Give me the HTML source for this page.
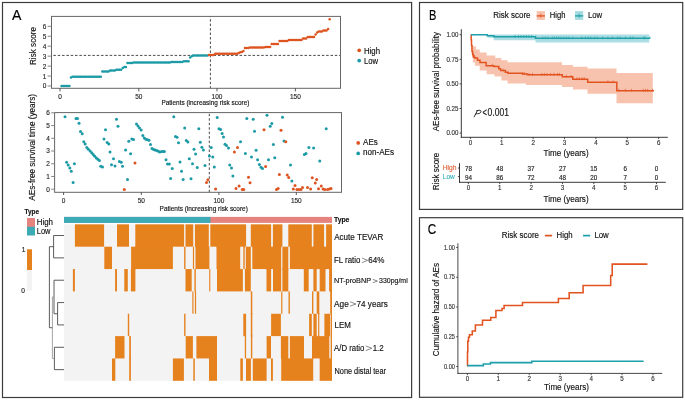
<!DOCTYPE html>
<html><head><meta charset="utf-8"><title>Figure</title>
<style>
html,body{margin:0;padding:0;background:#fff;overflow:hidden;}
svg{display:block;will-change:transform;font-family:"Liberation Sans", sans-serif;}
text{stroke-width:0.15px;}
</style></head><body>
<svg width="685" height="400" viewBox="0 0 685 400">
<rect x="0" y="0" width="685" height="400" fill="#fff"/>
<rect x="2.5" y="2.5" width="409.1" height="395" fill="none" stroke="#3c3c3c" stroke-width="1.2" />
<rect x="419.5" y="2.5" width="263.2" height="206.9" fill="none" stroke="#3c3c3c" stroke-width="1.2" />
<rect x="419.5" y="217.7" width="263.2" height="179.6" fill="none" stroke="#3c3c3c" stroke-width="1.2" />
<text x="12.05" y="19.7" font-size="14.0" fill="#000" stroke="#000" textLength="9.41" lengthAdjust="spacingAndGlyphs" >A</text>
<text x="428.90" y="19.7" font-size="14.0" fill="#000" stroke="#000" textLength="7.37" lengthAdjust="spacingAndGlyphs" >B</text>
<text x="427.80" y="234.45" font-size="14.0" fill="#000" stroke="#000" textLength="8.48" lengthAdjust="spacingAndGlyphs" >C</text>
<line x1="51.5" y1="55.4" x2="340.5" y2="55.4" stroke="#4a4a4a" stroke-width="1.0" stroke-dasharray="2.5,1.83" stroke-dashoffset="2.44"/>
<line x1="210.4" y1="16.4" x2="210.4" y2="88.3" stroke="#4a4a4a" stroke-width="1.0" stroke-dasharray="2.5,1.97" stroke-dashoffset="1.72"/>
<circle cx="61.57" cy="85.90" r="1.25" fill="#1c9aa6"/><circle cx="63.14" cy="85.90" r="1.25" fill="#1c9aa6"/><circle cx="64.70" cy="85.90" r="1.25" fill="#1c9aa6"/><circle cx="66.27" cy="85.90" r="1.25" fill="#1c9aa6"/><circle cx="67.84" cy="85.90" r="1.25" fill="#1c9aa6"/><circle cx="69.41" cy="85.90" r="1.25" fill="#1c9aa6"/><circle cx="70.98" cy="77.50" r="1.25" fill="#1c9aa6"/><circle cx="72.54" cy="76.75" r="1.25" fill="#1c9aa6"/><circle cx="74.11" cy="76.75" r="1.25" fill="#1c9aa6"/><circle cx="75.68" cy="76.75" r="1.25" fill="#1c9aa6"/><circle cx="77.25" cy="76.75" r="1.25" fill="#1c9aa6"/><circle cx="78.82" cy="76.75" r="1.25" fill="#1c9aa6"/><circle cx="80.38" cy="76.75" r="1.25" fill="#1c9aa6"/><circle cx="81.95" cy="76.75" r="1.25" fill="#1c9aa6"/><circle cx="83.52" cy="76.75" r="1.25" fill="#1c9aa6"/><circle cx="85.09" cy="76.75" r="1.25" fill="#1c9aa6"/><circle cx="86.66" cy="76.75" r="1.25" fill="#1c9aa6"/><circle cx="88.22" cy="76.75" r="1.25" fill="#1c9aa6"/><circle cx="89.79" cy="76.75" r="1.25" fill="#1c9aa6"/><circle cx="91.36" cy="76.75" r="1.25" fill="#1c9aa6"/><circle cx="92.93" cy="76.75" r="1.25" fill="#1c9aa6"/><circle cx="94.50" cy="76.75" r="1.25" fill="#1c9aa6"/><circle cx="96.06" cy="76.75" r="1.25" fill="#1c9aa6"/><circle cx="97.63" cy="76.75" r="1.25" fill="#1c9aa6"/><circle cx="99.20" cy="76.75" r="1.25" fill="#1c9aa6"/><circle cx="100.77" cy="76.75" r="1.25" fill="#1c9aa6"/><circle cx="102.34" cy="71.50" r="1.25" fill="#1c9aa6"/><circle cx="103.90" cy="71.50" r="1.25" fill="#1c9aa6"/><circle cx="105.47" cy="71.50" r="1.25" fill="#1c9aa6"/><circle cx="107.04" cy="71.50" r="1.25" fill="#1c9aa6"/><circle cx="108.61" cy="71.50" r="1.25" fill="#1c9aa6"/><circle cx="110.18" cy="70.60" r="1.25" fill="#1c9aa6"/><circle cx="111.74" cy="70.60" r="1.25" fill="#1c9aa6"/><circle cx="113.31" cy="70.60" r="1.25" fill="#1c9aa6"/><circle cx="114.88" cy="70.60" r="1.25" fill="#1c9aa6"/><circle cx="116.45" cy="69.75" r="1.25" fill="#1c9aa6"/><circle cx="118.02" cy="69.75" r="1.25" fill="#1c9aa6"/><circle cx="119.58" cy="69.75" r="1.25" fill="#1c9aa6"/><circle cx="121.15" cy="69.75" r="1.25" fill="#1c9aa6"/><circle cx="122.72" cy="68.10" r="1.25" fill="#1c9aa6"/><circle cx="124.29" cy="66.90" r="1.25" fill="#1c9aa6"/><circle cx="125.86" cy="66.90" r="1.25" fill="#1c9aa6"/><circle cx="127.42" cy="63.00" r="1.25" fill="#1c9aa6"/><circle cx="128.99" cy="63.00" r="1.25" fill="#1c9aa6"/><circle cx="130.56" cy="63.00" r="1.25" fill="#1c9aa6"/><circle cx="132.13" cy="63.00" r="1.25" fill="#1c9aa6"/><circle cx="133.70" cy="62.50" r="1.25" fill="#1c9aa6"/><circle cx="135.26" cy="62.50" r="1.25" fill="#1c9aa6"/><circle cx="136.83" cy="62.50" r="1.25" fill="#1c9aa6"/><circle cx="138.40" cy="62.50" r="1.25" fill="#1c9aa6"/><circle cx="139.97" cy="62.50" r="1.25" fill="#1c9aa6"/><circle cx="141.54" cy="62.50" r="1.25" fill="#1c9aa6"/><circle cx="143.10" cy="62.50" r="1.25" fill="#1c9aa6"/><circle cx="144.67" cy="62.50" r="1.25" fill="#1c9aa6"/><circle cx="146.24" cy="62.50" r="1.25" fill="#1c9aa6"/><circle cx="147.81" cy="62.50" r="1.25" fill="#1c9aa6"/><circle cx="149.38" cy="62.50" r="1.25" fill="#1c9aa6"/><circle cx="150.94" cy="62.50" r="1.25" fill="#1c9aa6"/><circle cx="152.51" cy="62.50" r="1.25" fill="#1c9aa6"/><circle cx="154.08" cy="62.50" r="1.25" fill="#1c9aa6"/><circle cx="155.65" cy="62.50" r="1.25" fill="#1c9aa6"/><circle cx="157.22" cy="62.50" r="1.25" fill="#1c9aa6"/><circle cx="158.78" cy="62.50" r="1.25" fill="#1c9aa6"/><circle cx="160.35" cy="62.50" r="1.25" fill="#1c9aa6"/><circle cx="161.92" cy="62.50" r="1.25" fill="#1c9aa6"/><circle cx="163.49" cy="62.50" r="1.25" fill="#1c9aa6"/><circle cx="165.06" cy="62.50" r="1.25" fill="#1c9aa6"/><circle cx="166.62" cy="62.50" r="1.25" fill="#1c9aa6"/><circle cx="168.19" cy="62.50" r="1.25" fill="#1c9aa6"/><circle cx="169.76" cy="62.50" r="1.25" fill="#1c9aa6"/><circle cx="171.33" cy="61.90" r="1.25" fill="#1c9aa6"/><circle cx="172.90" cy="61.90" r="1.25" fill="#1c9aa6"/><circle cx="174.46" cy="61.90" r="1.25" fill="#1c9aa6"/><circle cx="176.03" cy="61.90" r="1.25" fill="#1c9aa6"/><circle cx="177.60" cy="61.90" r="1.25" fill="#1c9aa6"/><circle cx="179.17" cy="61.90" r="1.25" fill="#1c9aa6"/><circle cx="180.74" cy="61.90" r="1.25" fill="#1c9aa6"/><circle cx="182.30" cy="61.90" r="1.25" fill="#1c9aa6"/><circle cx="183.87" cy="61.25" r="1.25" fill="#1c9aa6"/><circle cx="185.44" cy="61.25" r="1.25" fill="#1c9aa6"/><circle cx="187.01" cy="61.25" r="1.25" fill="#1c9aa6"/><circle cx="188.58" cy="61.25" r="1.25" fill="#1c9aa6"/><circle cx="190.14" cy="57.50" r="1.25" fill="#1c9aa6"/><circle cx="191.71" cy="56.30" r="1.25" fill="#1c9aa6"/><circle cx="193.28" cy="55.60" r="1.25" fill="#1c9aa6"/><circle cx="194.85" cy="55.60" r="1.25" fill="#1c9aa6"/><circle cx="196.42" cy="55.60" r="1.25" fill="#1c9aa6"/><circle cx="197.98" cy="55.60" r="1.25" fill="#1c9aa6"/><circle cx="199.55" cy="55.60" r="1.25" fill="#1c9aa6"/><circle cx="201.12" cy="55.60" r="1.25" fill="#1c9aa6"/><circle cx="202.69" cy="55.60" r="1.25" fill="#1c9aa6"/><circle cx="204.26" cy="55.60" r="1.25" fill="#1c9aa6"/><circle cx="205.82" cy="55.60" r="1.25" fill="#1c9aa6"/><circle cx="207.39" cy="55.60" r="1.25" fill="#1c9aa6"/><circle cx="208.96" cy="55.00" r="1.25" fill="#dd5420"/><circle cx="210.53" cy="55.00" r="1.25" fill="#dd5420"/><circle cx="212.10" cy="55.00" r="1.25" fill="#dd5420"/><circle cx="213.66" cy="55.00" r="1.25" fill="#dd5420"/><circle cx="215.23" cy="53.75" r="1.25" fill="#dd5420"/><circle cx="216.80" cy="53.75" r="1.25" fill="#dd5420"/><circle cx="218.37" cy="53.75" r="1.25" fill="#dd5420"/><circle cx="219.94" cy="53.75" r="1.25" fill="#dd5420"/><circle cx="221.50" cy="53.75" r="1.25" fill="#dd5420"/><circle cx="223.07" cy="53.75" r="1.25" fill="#dd5420"/><circle cx="224.64" cy="53.75" r="1.25" fill="#dd5420"/><circle cx="226.21" cy="53.75" r="1.25" fill="#dd5420"/><circle cx="227.78" cy="53.75" r="1.25" fill="#dd5420"/><circle cx="229.34" cy="53.75" r="1.25" fill="#dd5420"/><circle cx="230.91" cy="53.75" r="1.25" fill="#dd5420"/><circle cx="232.48" cy="53.75" r="1.25" fill="#dd5420"/><circle cx="234.05" cy="53.75" r="1.25" fill="#dd5420"/><circle cx="235.62" cy="53.75" r="1.25" fill="#dd5420"/><circle cx="237.18" cy="53.75" r="1.25" fill="#dd5420"/><circle cx="238.75" cy="52.90" r="1.25" fill="#dd5420"/><circle cx="240.32" cy="52.30" r="1.25" fill="#dd5420"/><circle cx="241.89" cy="51.90" r="1.25" fill="#dd5420"/><circle cx="243.46" cy="51.00" r="1.25" fill="#dd5420"/><circle cx="245.02" cy="47.90" r="1.25" fill="#dd5420"/><circle cx="246.59" cy="47.90" r="1.25" fill="#dd5420"/><circle cx="248.16" cy="47.90" r="1.25" fill="#dd5420"/><circle cx="249.73" cy="47.50" r="1.25" fill="#dd5420"/><circle cx="251.30" cy="47.50" r="1.25" fill="#dd5420"/><circle cx="252.86" cy="47.50" r="1.25" fill="#dd5420"/><circle cx="254.43" cy="47.50" r="1.25" fill="#dd5420"/><circle cx="256.00" cy="47.50" r="1.25" fill="#dd5420"/><circle cx="257.57" cy="47.50" r="1.25" fill="#dd5420"/><circle cx="259.14" cy="47.50" r="1.25" fill="#dd5420"/><circle cx="260.70" cy="47.50" r="1.25" fill="#dd5420"/><circle cx="262.27" cy="47.50" r="1.25" fill="#dd5420"/><circle cx="263.84" cy="47.50" r="1.25" fill="#dd5420"/><circle cx="265.41" cy="46.90" r="1.25" fill="#dd5420"/><circle cx="266.98" cy="46.90" r="1.25" fill="#dd5420"/><circle cx="268.54" cy="46.90" r="1.25" fill="#dd5420"/><circle cx="270.11" cy="46.90" r="1.25" fill="#dd5420"/><circle cx="271.68" cy="43.90" r="1.25" fill="#dd5420"/><circle cx="273.25" cy="43.90" r="1.25" fill="#dd5420"/><circle cx="274.82" cy="43.90" r="1.25" fill="#dd5420"/><circle cx="276.38" cy="43.90" r="1.25" fill="#dd5420"/><circle cx="277.95" cy="43.90" r="1.25" fill="#dd5420"/><circle cx="279.52" cy="41.00" r="1.25" fill="#dd5420"/><circle cx="281.09" cy="41.00" r="1.25" fill="#dd5420"/><circle cx="282.66" cy="41.00" r="1.25" fill="#dd5420"/><circle cx="284.22" cy="41.00" r="1.25" fill="#dd5420"/><circle cx="285.79" cy="41.00" r="1.25" fill="#dd5420"/><circle cx="287.36" cy="41.00" r="1.25" fill="#dd5420"/><circle cx="288.93" cy="40.10" r="1.25" fill="#dd5420"/><circle cx="290.50" cy="40.10" r="1.25" fill="#dd5420"/><circle cx="292.06" cy="40.10" r="1.25" fill="#dd5420"/><circle cx="293.63" cy="40.10" r="1.25" fill="#dd5420"/><circle cx="295.20" cy="40.10" r="1.25" fill="#dd5420"/><circle cx="296.77" cy="40.10" r="1.25" fill="#dd5420"/><circle cx="298.34" cy="40.10" r="1.25" fill="#dd5420"/><circle cx="299.90" cy="40.10" r="1.25" fill="#dd5420"/><circle cx="301.47" cy="40.10" r="1.25" fill="#dd5420"/><circle cx="303.04" cy="38.60" r="1.25" fill="#dd5420"/><circle cx="304.61" cy="38.60" r="1.25" fill="#dd5420"/><circle cx="306.18" cy="38.60" r="1.25" fill="#dd5420"/><circle cx="307.74" cy="37.00" r="1.25" fill="#dd5420"/><circle cx="309.31" cy="37.00" r="1.25" fill="#dd5420"/><circle cx="310.88" cy="37.00" r="1.25" fill="#dd5420"/><circle cx="312.45" cy="37.00" r="1.25" fill="#dd5420"/><circle cx="314.02" cy="37.00" r="1.25" fill="#dd5420"/><circle cx="315.58" cy="34.50" r="1.25" fill="#dd5420"/><circle cx="317.15" cy="32.60" r="1.25" fill="#dd5420"/><circle cx="318.72" cy="31.60" r="1.25" fill="#dd5420"/><circle cx="320.29" cy="31.60" r="1.25" fill="#dd5420"/><circle cx="321.86" cy="31.60" r="1.25" fill="#dd5420"/><circle cx="323.42" cy="30.50" r="1.25" fill="#dd5420"/><circle cx="324.99" cy="30.50" r="1.25" fill="#dd5420"/><circle cx="326.56" cy="30.50" r="1.25" fill="#dd5420"/><circle cx="328.13" cy="28.90" r="1.25" fill="#dd5420"/><circle cx="329.70" cy="19.25" r="1.25" fill="#dd5420"/>
<rect x="51.5" y="16.4" width="289.0" height="71.9" fill="none" stroke="#666" stroke-width="1.0" />
<line x1="47.6" y1="86.0" x2="51.5" y2="86.0" stroke="#777" stroke-width="0.9" />
<text x="46.3" y="88.45" font-size="6.9" text-anchor="end" fill="#2a2a2a" stroke="#2a2a2a" textLength="3.61" lengthAdjust="spacingAndGlyphs" >0</text>
<line x1="47.6" y1="76.05" x2="51.5" y2="76.05" stroke="#777" stroke-width="0.9" />
<text x="46.3" y="78.50" font-size="6.9" text-anchor="end" fill="#2a2a2a" stroke="#2a2a2a" textLength="3.61" lengthAdjust="spacingAndGlyphs" >1</text>
<line x1="47.6" y1="66.1" x2="51.5" y2="66.1" stroke="#777" stroke-width="0.9" />
<text x="46.3" y="68.55" font-size="6.9" text-anchor="end" fill="#2a2a2a" stroke="#2a2a2a" textLength="3.61" lengthAdjust="spacingAndGlyphs" >2</text>
<line x1="47.6" y1="56.150000000000006" x2="51.5" y2="56.150000000000006" stroke="#777" stroke-width="0.9" />
<text x="46.3" y="58.60" font-size="6.9" text-anchor="end" fill="#2a2a2a" stroke="#2a2a2a" textLength="3.61" lengthAdjust="spacingAndGlyphs" >3</text>
<line x1="47.6" y1="46.2" x2="51.5" y2="46.2" stroke="#777" stroke-width="0.9" />
<text x="46.3" y="48.65" font-size="6.9" text-anchor="end" fill="#2a2a2a" stroke="#2a2a2a" textLength="3.61" lengthAdjust="spacingAndGlyphs" >4</text>
<line x1="47.6" y1="36.25" x2="51.5" y2="36.25" stroke="#777" stroke-width="0.9" />
<text x="46.3" y="38.70" font-size="6.9" text-anchor="end" fill="#2a2a2a" stroke="#2a2a2a" textLength="3.61" lengthAdjust="spacingAndGlyphs" >5</text>
<line x1="47.6" y1="26.300000000000004" x2="51.5" y2="26.300000000000004" stroke="#777" stroke-width="0.9" />
<text x="46.3" y="28.75" font-size="6.9" text-anchor="end" fill="#2a2a2a" stroke="#2a2a2a" textLength="3.61" lengthAdjust="spacingAndGlyphs" >6</text>
<line x1="60.0" y1="88.3" x2="60.0" y2="91.4" stroke="#444" stroke-width="0.9" />
<text x="60.0" y="98.8" font-size="6.9" text-anchor="middle" fill="#2a2a2a" stroke="#2a2a2a" textLength="3.61" lengthAdjust="spacingAndGlyphs" >0</text>
<line x1="138.8" y1="88.3" x2="138.8" y2="91.4" stroke="#444" stroke-width="0.9" />
<text x="138.8" y="98.8" font-size="6.9" text-anchor="middle" fill="#2a2a2a" stroke="#2a2a2a" textLength="7.21" lengthAdjust="spacingAndGlyphs" >50</text>
<line x1="217.0" y1="88.3" x2="217.0" y2="91.4" stroke="#444" stroke-width="0.9" />
<text x="217.0" y="98.8" font-size="6.9" text-anchor="middle" fill="#2a2a2a" stroke="#2a2a2a" textLength="10.82" lengthAdjust="spacingAndGlyphs" >100</text>
<line x1="295.4" y1="88.3" x2="295.4" y2="91.4" stroke="#444" stroke-width="0.9" />
<text x="295.4" y="98.8" font-size="6.9" text-anchor="middle" fill="#2a2a2a" stroke="#2a2a2a" textLength="10.82" lengthAdjust="spacingAndGlyphs" >150</text>
<text x="161.40" y="105.0" font-size="7.0" fill="#111" stroke="#111" textLength="88.01" lengthAdjust="spacingAndGlyphs" >Patients (increasing risk score)</text>
<text transform="translate(36.0,65.00) rotate(-90)" x="0" y="0" font-size="8.6" fill="#111" stroke="#111" textLength="37.98" lengthAdjust="spacingAndGlyphs">Risk score</text>
<circle cx="359.2" cy="50.3" r="1.85" fill="#dd5420"/>
<circle cx="359.2" cy="60.6" r="1.85" fill="#1c9aa6"/>
<text x="363.90" y="54.0" font-size="8.4" fill="#111" stroke="#111" textLength="16.11" lengthAdjust="spacingAndGlyphs" >High</text>
<text x="363.90" y="63.7" font-size="8.4" fill="#111" stroke="#111" textLength="14.10" lengthAdjust="spacingAndGlyphs" >Low</text>
<line x1="209.3" y1="112.6" x2="209.3" y2="192.3" stroke="#4a4a4a" stroke-width="1.0" stroke-dasharray="2.5,1.97" stroke-dashoffset="3.32"/>
<circle cx="65" cy="116.8" r="1.5" fill="#1c9aa6"/><circle cx="76" cy="118.5" r="1.5" fill="#1c9aa6"/><circle cx="77.5" cy="118.5" r="1.5" fill="#1c9aa6"/><circle cx="79" cy="123.2" r="1.5" fill="#1c9aa6"/><circle cx="80.5" cy="131.5" r="1.5" fill="#1c9aa6"/><circle cx="82.2" cy="133.7" r="1.5" fill="#1c9aa6"/><circle cx="83.8" cy="141.8" r="1.5" fill="#1c9aa6"/><circle cx="85.2" cy="144" r="1.5" fill="#1c9aa6"/><circle cx="86.8" cy="147.5" r="1.5" fill="#1c9aa6"/><circle cx="88.4" cy="149.2" r="1.5" fill="#1c9aa6"/><circle cx="66.6" cy="162.3" r="1.5" fill="#1c9aa6"/><circle cx="68.2" cy="165" r="1.5" fill="#1c9aa6"/><circle cx="69.8" cy="168" r="1.5" fill="#1c9aa6"/><circle cx="71.25" cy="171.25" r="1.5" fill="#1c9aa6"/><circle cx="73.1" cy="182.5" r="1.5" fill="#1c9aa6"/><circle cx="74.4" cy="163.75" r="1.5" fill="#1c9aa6"/><circle cx="90.1" cy="151" r="1.5" fill="#1c9aa6"/><circle cx="91.7" cy="152.8" r="1.5" fill="#1c9aa6"/><circle cx="93.2" cy="154.4" r="1.5" fill="#1c9aa6"/><circle cx="94.8" cy="156.2" r="1.5" fill="#1c9aa6"/><circle cx="96.3" cy="157.9" r="1.5" fill="#1c9aa6"/><circle cx="97.9" cy="159.3" r="1.5" fill="#1c9aa6"/><circle cx="99.4" cy="160.6" r="1.5" fill="#1c9aa6"/><circle cx="100.8" cy="166.25" r="1.5" fill="#1c9aa6"/><circle cx="102.5" cy="166.9" r="1.5" fill="#1c9aa6"/><circle cx="104" cy="139" r="1.5" fill="#1c9aa6"/><circle cx="105.5" cy="129.7" r="1.5" fill="#1c9aa6"/><circle cx="107.2" cy="142.5" r="1.5" fill="#1c9aa6"/><circle cx="108.8" cy="144" r="1.5" fill="#1c9aa6"/><circle cx="110" cy="152.1" r="1.5" fill="#1c9aa6"/><circle cx="111.5" cy="164.75" r="1.5" fill="#1c9aa6"/><circle cx="113.5" cy="158.75" r="1.5" fill="#1c9aa6"/><circle cx="115" cy="166" r="1.5" fill="#1c9aa6"/><circle cx="116.5" cy="119.2" r="1.5" fill="#1c9aa6"/><circle cx="118" cy="126.3" r="1.5" fill="#1c9aa6"/><circle cx="119.4" cy="161.5" r="1.5" fill="#1c9aa6"/><circle cx="121.2" cy="162.2" r="1.5" fill="#1c9aa6"/><circle cx="122.5" cy="166.25" r="1.5" fill="#1c9aa6"/><circle cx="124.3" cy="189.4" r="1.5" fill="#dd5420"/><circle cx="125.6" cy="150" r="1.5" fill="#1c9aa6"/><circle cx="127.5" cy="179.6" r="1.5" fill="#1c9aa6"/><circle cx="128.8" cy="141.2" r="1.5" fill="#1c9aa6"/><circle cx="130.6" cy="153.75" r="1.5" fill="#1c9aa6"/><circle cx="131.8" cy="139" r="1.5" fill="#1c9aa6"/><circle cx="133.5" cy="139.5" r="1.5" fill="#1c9aa6"/><circle cx="135" cy="162.9" r="1.5" fill="#dd5420"/><circle cx="136.5" cy="124" r="1.5" fill="#1c9aa6"/><circle cx="138" cy="126" r="1.5" fill="#1c9aa6"/><circle cx="139.5" cy="128" r="1.5" fill="#1c9aa6"/><circle cx="141.2" cy="130" r="1.5" fill="#1c9aa6"/><circle cx="142.8" cy="135.5" r="1.5" fill="#1c9aa6"/><circle cx="144.3" cy="138" r="1.5" fill="#1c9aa6"/><circle cx="145.9" cy="139.3" r="1.5" fill="#1c9aa6"/><circle cx="147.5" cy="139.7" r="1.5" fill="#1c9aa6"/><circle cx="149" cy="140.3" r="1.5" fill="#1c9aa6"/><circle cx="150.5" cy="144.5" r="1.5" fill="#1c9aa6"/><circle cx="152" cy="148.5" r="1.5" fill="#1c9aa6"/><circle cx="153.6" cy="149.5" r="1.5" fill="#1c9aa6"/><circle cx="155.1" cy="150" r="1.5" fill="#1c9aa6"/><circle cx="156.8" cy="150.6" r="1.5" fill="#1c9aa6"/><circle cx="158.3" cy="151.3" r="1.5" fill="#1c9aa6"/><circle cx="159.8" cy="151.9" r="1.5" fill="#1c9aa6"/><circle cx="161.6" cy="151.4" r="1.5" fill="#1c9aa6"/><circle cx="163" cy="151.5" r="1.5" fill="#1c9aa6"/><circle cx="164.4" cy="151.5" r="1.5" fill="#1c9aa6"/><circle cx="166" cy="159.75" r="1.5" fill="#1c9aa6"/><circle cx="167.5" cy="164.1" r="1.5" fill="#1c9aa6"/><circle cx="169.3" cy="164.1" r="1.5" fill="#1c9aa6"/><circle cx="170.6" cy="178.5" r="1.5" fill="#1c9aa6"/><circle cx="172.25" cy="168.5" r="1.5" fill="#1c9aa6"/><circle cx="173.8" cy="116.8" r="1.5" fill="#1c9aa6"/><circle cx="175.5" cy="136.5" r="1.5" fill="#1c9aa6"/><circle cx="177" cy="137.2" r="1.5" fill="#1c9aa6"/><circle cx="178.5" cy="142.8" r="1.5" fill="#1c9aa6"/><circle cx="180" cy="161.9" r="1.5" fill="#1c9aa6"/><circle cx="181.5" cy="171.25" r="1.5" fill="#1c9aa6"/><circle cx="183.1" cy="179.4" r="1.5" fill="#1c9aa6"/><circle cx="184.7" cy="128" r="1.5" fill="#1c9aa6"/><circle cx="186.3" cy="140.5" r="1.5" fill="#1c9aa6"/><circle cx="187.9" cy="142.1" r="1.5" fill="#1c9aa6"/><circle cx="189.3" cy="158.75" r="1.5" fill="#1c9aa6"/><circle cx="191" cy="178.75" r="1.5" fill="#1c9aa6"/><circle cx="192.5" cy="163.75" r="1.5" fill="#1c9aa6"/><circle cx="194" cy="149.3" r="1.5" fill="#1c9aa6"/><circle cx="195.6" cy="154" r="1.5" fill="#1c9aa6"/><circle cx="197.25" cy="167.5" r="1.5" fill="#1c9aa6"/><circle cx="198.8" cy="128.7" r="1.5" fill="#1c9aa6"/><circle cx="200.3" cy="142.3" r="1.5" fill="#1c9aa6"/><circle cx="201.9" cy="147.3" r="1.5" fill="#1c9aa6"/><circle cx="203.4" cy="150" r="1.5" fill="#1c9aa6"/><circle cx="205" cy="165.4" r="1.5" fill="#1c9aa6"/><circle cx="206.5" cy="182.5" r="1.5" fill="#dd5420"/><circle cx="207.9" cy="179.75" r="1.5" fill="#dd5420"/><circle cx="209.4" cy="156" r="1.5" fill="#1c9aa6"/><circle cx="211.2" cy="147.4" r="1.5" fill="#1c9aa6"/><circle cx="212.75" cy="156.9" r="1.5" fill="#1c9aa6"/><circle cx="214.3" cy="166.9" r="1.5" fill="#1c9aa6"/><circle cx="215.6" cy="189" r="1.5" fill="#dd5420"/><circle cx="217.2" cy="117.5" r="1.5" fill="#1c9aa6"/><circle cx="219" cy="128.7" r="1.5" fill="#1c9aa6"/><circle cx="220.6" cy="129.5" r="1.5" fill="#1c9aa6"/><circle cx="222.1" cy="133.5" r="1.5" fill="#1c9aa6"/><circle cx="223.5" cy="137" r="1.5" fill="#1c9aa6"/><circle cx="225" cy="144.2" r="1.5" fill="#1c9aa6"/><circle cx="226.5" cy="145.6" r="1.5" fill="#1c9aa6"/><circle cx="228.5" cy="148" r="1.5" fill="#1c9aa6"/><circle cx="229.75" cy="165" r="1.5" fill="#1c9aa6"/><circle cx="231.5" cy="167.9" r="1.5" fill="#1c9aa6"/><circle cx="232.9" cy="176" r="1.5" fill="#1c9aa6"/><circle cx="234.4" cy="152.1" r="1.5" fill="#dd5420"/><circle cx="236" cy="188.5" r="1.5" fill="#dd5420"/><circle cx="237.5" cy="147.5" r="1.5" fill="#dd5420"/><circle cx="239.1" cy="186" r="1.5" fill="#dd5420"/><circle cx="240.5" cy="141.8" r="1.5" fill="#1c9aa6"/><circle cx="242.25" cy="189.4" r="1.5" fill="#dd5420"/><circle cx="243.75" cy="189.4" r="1.5" fill="#dd5420"/><circle cx="245.4" cy="153.5" r="1.5" fill="#1c9aa6"/><circle cx="246.8" cy="118.5" r="1.5" fill="#1c9aa6"/><circle cx="248.5" cy="177.25" r="1.5" fill="#dd5420"/><circle cx="250" cy="182.75" r="1.5" fill="#dd5420"/><circle cx="251.5" cy="156.9" r="1.5" fill="#1c9aa6"/><circle cx="253.2" cy="119.2" r="1.5" fill="#1c9aa6"/><circle cx="254.5" cy="131.3" r="1.5" fill="#1c9aa6"/><circle cx="256.1" cy="150.3" r="1.5" fill="#1c9aa6"/><circle cx="257.6" cy="159.75" r="1.5" fill="#1c9aa6"/><circle cx="259.4" cy="164.4" r="1.5" fill="#1c9aa6"/><circle cx="261" cy="167.25" r="1.5" fill="#1c9aa6"/><circle cx="262.5" cy="168.5" r="1.5" fill="#1c9aa6"/><circle cx="264" cy="129.8" r="1.5" fill="#dd5420"/><circle cx="265.6" cy="166.5" r="1.5" fill="#dd5420"/><circle cx="267" cy="115.2" r="1.5" fill="#1c9aa6"/><circle cx="268.5" cy="159.75" r="1.5" fill="#1c9aa6"/><circle cx="270.2" cy="126.3" r="1.5" fill="#1c9aa6"/><circle cx="271.8" cy="123.5" r="1.5" fill="#1c9aa6"/><circle cx="273.4" cy="144.5" r="1.5" fill="#1c9aa6"/><circle cx="274.75" cy="157.75" r="1.5" fill="#1c9aa6"/><circle cx="276.5" cy="189.4" r="1.5" fill="#dd5420"/><circle cx="278.1" cy="188.5" r="1.5" fill="#dd5420"/><circle cx="279.4" cy="174.4" r="1.5" fill="#dd5420"/><circle cx="281" cy="130.3" r="1.5" fill="#dd5420"/><circle cx="282.5" cy="117.2" r="1.5" fill="#1c9aa6"/><circle cx="284" cy="141" r="1.5" fill="#1c9aa6"/><circle cx="285.8" cy="141.8" r="1.5" fill="#dd5420"/><circle cx="287.25" cy="175" r="1.5" fill="#dd5420"/><circle cx="288.75" cy="177.5" r="1.5" fill="#dd5420"/><circle cx="290.5" cy="165" r="1.5" fill="#1c9aa6"/><circle cx="291.9" cy="180.9" r="1.5" fill="#1c9aa6"/><circle cx="293.3" cy="189" r="1.5" fill="#dd5420"/><circle cx="295" cy="185.6" r="1.5" fill="#dd5420"/><circle cx="296.9" cy="189.4" r="1.5" fill="#dd5420"/><circle cx="299" cy="189.4" r="1.5" fill="#dd5420"/><circle cx="301" cy="189.4" r="1.5" fill="#dd5420"/><circle cx="302.5" cy="187.5" r="1.5" fill="#dd5420"/><circle cx="304.4" cy="154.4" r="1.5" fill="#1c9aa6"/><circle cx="306" cy="153.5" r="1.5" fill="#1c9aa6"/><circle cx="307.5" cy="187.5" r="1.5" fill="#dd5420"/><circle cx="308.9" cy="147.4" r="1.5" fill="#1c9aa6"/><circle cx="310.6" cy="189" r="1.5" fill="#dd5420"/><circle cx="312.25" cy="177.75" r="1.5" fill="#dd5420"/><circle cx="313.6" cy="148" r="1.5" fill="#1c9aa6"/><circle cx="315.25" cy="183.1" r="1.5" fill="#dd5420"/><circle cx="316.6" cy="179.4" r="1.5" fill="#dd5420"/><circle cx="318.5" cy="188.75" r="1.5" fill="#dd5420"/><circle cx="319.75" cy="161" r="1.5" fill="#1c9aa6"/><circle cx="321.25" cy="186" r="1.5" fill="#dd5420"/><circle cx="323.1" cy="189" r="1.5" fill="#dd5420"/><circle cx="324.75" cy="189.4" r="1.5" fill="#dd5420"/><circle cx="326.2" cy="128.7" r="1.5" fill="#1c9aa6"/><circle cx="327.5" cy="189.4" r="1.5" fill="#dd5420"/><circle cx="329.4" cy="189" r="1.5" fill="#dd5420"/><circle cx="331" cy="188.5" r="1.5" fill="#dd5420"/>
<rect x="54.6" y="112.6" width="286.9" height="79.70000000000002" fill="none" stroke="#666" stroke-width="1.0" />
<line x1="51.2" y1="189.2" x2="54.6" y2="189.2" stroke="#777" stroke-width="0.9" />
<text x="49.9" y="191.65" font-size="6.9" text-anchor="end" fill="#2a2a2a" stroke="#2a2a2a" textLength="3.61" lengthAdjust="spacingAndGlyphs" >0</text>
<line x1="51.2" y1="176.47" x2="54.6" y2="176.47" stroke="#777" stroke-width="0.9" />
<text x="49.9" y="178.92" font-size="6.9" text-anchor="end" fill="#2a2a2a" stroke="#2a2a2a" textLength="3.61" lengthAdjust="spacingAndGlyphs" >1</text>
<line x1="51.2" y1="163.73999999999998" x2="54.6" y2="163.73999999999998" stroke="#777" stroke-width="0.9" />
<text x="49.9" y="166.19" font-size="6.9" text-anchor="end" fill="#2a2a2a" stroke="#2a2a2a" textLength="3.61" lengthAdjust="spacingAndGlyphs" >2</text>
<line x1="51.2" y1="151.01" x2="54.6" y2="151.01" stroke="#777" stroke-width="0.9" />
<text x="49.9" y="153.46" font-size="6.9" text-anchor="end" fill="#2a2a2a" stroke="#2a2a2a" textLength="3.61" lengthAdjust="spacingAndGlyphs" >3</text>
<line x1="51.2" y1="138.27999999999997" x2="54.6" y2="138.27999999999997" stroke="#777" stroke-width="0.9" />
<text x="49.9" y="140.73" font-size="6.9" text-anchor="end" fill="#2a2a2a" stroke="#2a2a2a" textLength="3.61" lengthAdjust="spacingAndGlyphs" >4</text>
<line x1="51.2" y1="125.54999999999998" x2="54.6" y2="125.54999999999998" stroke="#777" stroke-width="0.9" />
<text x="49.9" y="128.00" font-size="6.9" text-anchor="end" fill="#2a2a2a" stroke="#2a2a2a" textLength="3.61" lengthAdjust="spacingAndGlyphs" >5</text>
<line x1="51.2" y1="112.82" x2="54.6" y2="112.82" stroke="#777" stroke-width="0.9" />
<text x="49.9" y="115.27" font-size="6.9" text-anchor="end" fill="#2a2a2a" stroke="#2a2a2a" textLength="3.61" lengthAdjust="spacingAndGlyphs" >6</text>
<line x1="63.6" y1="192.3" x2="63.6" y2="195.0" stroke="#444" stroke-width="0.9" />
<text x="63.6" y="203.3" font-size="6.9" text-anchor="middle" fill="#2a2a2a" stroke="#2a2a2a" textLength="3.61" lengthAdjust="spacingAndGlyphs" >0</text>
<line x1="141.3" y1="192.3" x2="141.3" y2="195.0" stroke="#444" stroke-width="0.9" />
<text x="141.3" y="203.3" font-size="6.9" text-anchor="middle" fill="#2a2a2a" stroke="#2a2a2a" textLength="7.21" lengthAdjust="spacingAndGlyphs" >50</text>
<line x1="218.9" y1="192.3" x2="218.9" y2="195.0" stroke="#444" stroke-width="0.9" />
<text x="218.9" y="203.3" font-size="6.9" text-anchor="middle" fill="#2a2a2a" stroke="#2a2a2a" textLength="10.82" lengthAdjust="spacingAndGlyphs" >100</text>
<line x1="296.3" y1="192.3" x2="296.3" y2="195.0" stroke="#444" stroke-width="0.9" />
<text x="296.3" y="203.3" font-size="6.9" text-anchor="middle" fill="#2a2a2a" stroke="#2a2a2a" textLength="10.82" lengthAdjust="spacingAndGlyphs" >150</text>
<text x="159.60" y="211.0" font-size="7.0" fill="#111" stroke="#111" textLength="88.21" lengthAdjust="spacingAndGlyphs" >Patients (increasing risk score)</text>
<text transform="translate(34.5,200.70) rotate(-90)" x="0" y="0" font-size="8.6" fill="#111" stroke="#111" textLength="106.69" lengthAdjust="spacingAndGlyphs">AEs-free survival time (years)</text>
<circle cx="358.2" cy="142.9" r="1.85" fill="#dd5420"/>
<circle cx="358.2" cy="153.4" r="1.85" fill="#1c9aa6"/>
<text x="363.00" y="144.9" font-size="8.5" fill="#111" stroke="#111" textLength="14.79" lengthAdjust="spacingAndGlyphs" >AEs</text>
<text x="363.00" y="154.6" font-size="8.5" fill="#111" stroke="#111" textLength="31.01" lengthAdjust="spacingAndGlyphs" >non-AEs</text>
<rect x="64.0" y="216.9" width="268.0" height="6.0" fill="#e5837e" stroke="none" stroke-width="1" />
<rect x="64.0" y="216.9" width="146.4" height="6.0" fill="#3cabb5" stroke="none" stroke-width="1" />
<rect x="64.0" y="224.35" width="268.0" height="156.45000000000002" fill="#f3f3f3" stroke="none" stroke-width="1" />
<rect x="74.90" y="224.35" width="29.20" height="22.35" fill="#e6821e" stroke="none" stroke-width="1" />
<rect x="117.00" y="224.35" width="12.00" height="22.35" fill="#e6821e" stroke="none" stroke-width="1" />
<rect x="135.30" y="224.35" width="48.80" height="22.35" fill="#e6821e" stroke="none" stroke-width="1" />
<rect x="185.50" y="224.35" width="7.70" height="22.35" fill="#e6821e" stroke="none" stroke-width="1" />
<rect x="194.90" y="224.35" width="13.90" height="22.35" fill="#e6821e" stroke="none" stroke-width="1" />
<rect x="210.30" y="224.35" width="35.80" height="22.35" fill="#e6821e" stroke="none" stroke-width="1" />
<rect x="250.80" y="224.35" width="20.30" height="22.35" fill="#e6821e" stroke="none" stroke-width="1" />
<rect x="272.90" y="224.35" width="9.50" height="22.35" fill="#e6821e" stroke="none" stroke-width="1" />
<rect x="288.30" y="224.35" width="23.50" height="22.35" fill="#e6821e" stroke="none" stroke-width="1" />
<rect x="313.40" y="224.35" width="10.70" height="22.35" fill="#e6821e" stroke="none" stroke-width="1" />
<rect x="326.10" y="224.35" width="5.90" height="22.35" fill="#e6821e" stroke="none" stroke-width="1" />
<rect x="135.30" y="246.00" width="37.60" height="1.4" fill="#e6821e" stroke="none" stroke-width="1" />
<rect x="195.50" y="246.00" width="13.30" height="1.4" fill="#e6821e" stroke="none" stroke-width="1" />
<rect x="216.50" y="246.00" width="23.70" height="1.4" fill="#e6821e" stroke="none" stroke-width="1" />
<rect x="243.30" y="246.00" width="1.40" height="1.4" fill="#e6821e" stroke="none" stroke-width="1" />
<rect x="252.30" y="246.00" width="18.80" height="1.4" fill="#e6821e" stroke="none" stroke-width="1" />
<rect x="272.90" y="246.00" width="8.30" height="1.4" fill="#e6821e" stroke="none" stroke-width="1" />
<rect x="289.90" y="246.00" width="21.90" height="1.4" fill="#e6821e" stroke="none" stroke-width="1" />
<rect x="313.40" y="246.00" width="10.70" height="1.4" fill="#e6821e" stroke="none" stroke-width="1" />
<rect x="326.10" y="246.00" width="5.90" height="1.4" fill="#e6821e" stroke="none" stroke-width="1" />
<rect x="104.30" y="246.70" width="7.70" height="22.35" fill="#e6821e" stroke="none" stroke-width="1" />
<rect x="131.10" y="246.70" width="41.80" height="22.35" fill="#e6821e" stroke="none" stroke-width="1" />
<rect x="184.10" y="246.70" width="1.40" height="22.35" fill="#e6821e" stroke="none" stroke-width="1" />
<rect x="192.90" y="246.70" width="1.20" height="22.35" fill="#e6821e" stroke="none" stroke-width="1" />
<rect x="195.50" y="246.70" width="13.90" height="22.35" fill="#e6821e" stroke="none" stroke-width="1" />
<rect x="216.50" y="246.70" width="23.70" height="22.35" fill="#e6821e" stroke="none" stroke-width="1" />
<rect x="243.30" y="246.70" width="1.40" height="22.35" fill="#e6821e" stroke="none" stroke-width="1" />
<rect x="245.80" y="246.70" width="5.00" height="22.35" fill="#e6821e" stroke="none" stroke-width="1" />
<rect x="252.30" y="246.70" width="28.90" height="22.35" fill="#e6821e" stroke="none" stroke-width="1" />
<rect x="282.40" y="246.70" width="5.90" height="22.35" fill="#e6821e" stroke="none" stroke-width="1" />
<rect x="289.90" y="246.70" width="42.10" height="22.35" fill="#e6821e" stroke="none" stroke-width="1" />
<rect x="131.10" y="268.35" width="4.30" height="1.4" fill="#e6821e" stroke="none" stroke-width="1" />
<rect x="195.50" y="268.35" width="0.30" height="1.4" fill="#e6821e" stroke="none" stroke-width="1" />
<rect x="217.00" y="268.35" width="23.20" height="1.4" fill="#e6821e" stroke="none" stroke-width="1" />
<rect x="245.80" y="268.35" width="5.00" height="1.4" fill="#e6821e" stroke="none" stroke-width="1" />
<rect x="266.50" y="268.35" width="4.60" height="1.4" fill="#e6821e" stroke="none" stroke-width="1" />
<rect x="273.00" y="268.35" width="8.20" height="1.4" fill="#e6821e" stroke="none" stroke-width="1" />
<rect x="282.40" y="268.35" width="5.90" height="1.4" fill="#e6821e" stroke="none" stroke-width="1" />
<rect x="303.80" y="268.35" width="4.90" height="1.4" fill="#e6821e" stroke="none" stroke-width="1" />
<rect x="313.40" y="268.35" width="3.30" height="1.4" fill="#e6821e" stroke="none" stroke-width="1" />
<rect x="319.70" y="268.35" width="5.80" height="1.4" fill="#e6821e" stroke="none" stroke-width="1" />
<rect x="329.10" y="268.35" width="2.90" height="1.4" fill="#e6821e" stroke="none" stroke-width="1" />
<rect x="72.90" y="269.05" width="2.00" height="22.35" fill="#e6821e" stroke="none" stroke-width="1" />
<rect x="115.10" y="269.05" width="1.90" height="22.35" fill="#e6821e" stroke="none" stroke-width="1" />
<rect x="124.30" y="269.05" width="3.50" height="22.35" fill="#e6821e" stroke="none" stroke-width="1" />
<rect x="130.90" y="269.05" width="4.50" height="22.35" fill="#e6821e" stroke="none" stroke-width="1" />
<rect x="185.50" y="269.05" width="6.20" height="22.35" fill="#e6821e" stroke="none" stroke-width="1" />
<rect x="194.40" y="269.05" width="1.40" height="22.35" fill="#e6821e" stroke="none" stroke-width="1" />
<rect x="209.20" y="269.05" width="1.10" height="22.35" fill="#e6821e" stroke="none" stroke-width="1" />
<rect x="217.00" y="269.05" width="25.90" height="22.35" fill="#e6821e" stroke="none" stroke-width="1" />
<rect x="244.90" y="269.05" width="5.90" height="22.35" fill="#e6821e" stroke="none" stroke-width="1" />
<rect x="266.50" y="269.05" width="4.60" height="22.35" fill="#e6821e" stroke="none" stroke-width="1" />
<rect x="273.00" y="269.05" width="8.20" height="22.35" fill="#e6821e" stroke="none" stroke-width="1" />
<rect x="282.40" y="269.05" width="5.90" height="22.35" fill="#e6821e" stroke="none" stroke-width="1" />
<rect x="303.80" y="269.05" width="4.90" height="22.35" fill="#e6821e" stroke="none" stroke-width="1" />
<rect x="313.40" y="269.05" width="3.30" height="22.35" fill="#e6821e" stroke="none" stroke-width="1" />
<rect x="319.70" y="269.05" width="5.80" height="22.35" fill="#e6821e" stroke="none" stroke-width="1" />
<rect x="329.10" y="269.05" width="2.90" height="22.35" fill="#e6821e" stroke="none" stroke-width="1" />
<rect x="194.90" y="290.70" width="0.90" height="1.4" fill="#e6821e" stroke="none" stroke-width="1" />
<rect x="330.20" y="290.70" width="1.80" height="1.4" fill="#e6821e" stroke="none" stroke-width="1" />
<rect x="192.30" y="291.40" width="1.20" height="22.35" fill="#e6821e" stroke="none" stroke-width="1" />
<rect x="194.90" y="291.40" width="1.20" height="22.35" fill="#e6821e" stroke="none" stroke-width="1" />
<rect x="250.80" y="291.40" width="1.50" height="22.35" fill="#e6821e" stroke="none" stroke-width="1" />
<rect x="281.20" y="291.40" width="1.20" height="22.35" fill="#e6821e" stroke="none" stroke-width="1" />
<rect x="288.50" y="291.40" width="1.40" height="22.35" fill="#e6821e" stroke="none" stroke-width="1" />
<rect x="312.00" y="291.40" width="1.40" height="22.35" fill="#e6821e" stroke="none" stroke-width="1" />
<rect x="316.70" y="291.40" width="2.60" height="22.35" fill="#e6821e" stroke="none" stroke-width="1" />
<rect x="330.20" y="291.40" width="1.80" height="22.35" fill="#e6821e" stroke="none" stroke-width="1" />
<rect x="250.80" y="313.05" width="1.50" height="1.4" fill="#e6821e" stroke="none" stroke-width="1" />
<rect x="318.10" y="313.05" width="1.20" height="1.4" fill="#e6821e" stroke="none" stroke-width="1" />
<rect x="330.80" y="313.05" width="1.20" height="1.4" fill="#e6821e" stroke="none" stroke-width="1" />
<rect x="127.80" y="313.75" width="1.40" height="22.35" fill="#e6821e" stroke="none" stroke-width="1" />
<rect x="184.10" y="313.75" width="1.40" height="22.35" fill="#e6821e" stroke="none" stroke-width="1" />
<rect x="243.30" y="313.75" width="2.80" height="22.35" fill="#e6821e" stroke="none" stroke-width="1" />
<rect x="250.80" y="313.75" width="1.50" height="22.35" fill="#e6821e" stroke="none" stroke-width="1" />
<rect x="271.10" y="313.75" width="9.80" height="22.35" fill="#e6821e" stroke="none" stroke-width="1" />
<rect x="309.10" y="313.75" width="2.70" height="22.35" fill="#e6821e" stroke="none" stroke-width="1" />
<rect x="313.40" y="313.75" width="3.30" height="22.35" fill="#e6821e" stroke="none" stroke-width="1" />
<rect x="318.10" y="313.75" width="1.20" height="22.35" fill="#e6821e" stroke="none" stroke-width="1" />
<rect x="324.40" y="313.75" width="5.80" height="22.35" fill="#e6821e" stroke="none" stroke-width="1" />
<rect x="330.80" y="313.75" width="1.20" height="22.35" fill="#e6821e" stroke="none" stroke-width="1" />
<rect x="244.80" y="335.40" width="1.30" height="1.4" fill="#e6821e" stroke="none" stroke-width="1" />
<rect x="250.90" y="335.40" width="1.40" height="1.4" fill="#e6821e" stroke="none" stroke-width="1" />
<rect x="313.40" y="335.40" width="3.30" height="1.4" fill="#e6821e" stroke="none" stroke-width="1" />
<rect x="318.10" y="335.40" width="1.20" height="1.4" fill="#e6821e" stroke="none" stroke-width="1" />
<rect x="324.40" y="335.40" width="4.90" height="1.4" fill="#e6821e" stroke="none" stroke-width="1" />
<rect x="330.80" y="335.40" width="1.20" height="1.4" fill="#e6821e" stroke="none" stroke-width="1" />
<rect x="115.10" y="336.10" width="9.40" height="22.35" fill="#e6821e" stroke="none" stroke-width="1" />
<rect x="129.20" y="336.10" width="1.70" height="22.35" fill="#e6821e" stroke="none" stroke-width="1" />
<rect x="185.70" y="336.10" width="7.20" height="22.35" fill="#e6821e" stroke="none" stroke-width="1" />
<rect x="196.40" y="336.10" width="20.60" height="22.35" fill="#e6821e" stroke="none" stroke-width="1" />
<rect x="244.80" y="336.10" width="1.30" height="22.35" fill="#e6821e" stroke="none" stroke-width="1" />
<rect x="250.90" y="336.10" width="1.40" height="22.35" fill="#e6821e" stroke="none" stroke-width="1" />
<rect x="266.60" y="336.10" width="4.40" height="22.35" fill="#e6821e" stroke="none" stroke-width="1" />
<rect x="280.90" y="336.10" width="7.40" height="22.35" fill="#e6821e" stroke="none" stroke-width="1" />
<rect x="289.90" y="336.10" width="14.10" height="22.35" fill="#e6821e" stroke="none" stroke-width="1" />
<rect x="312.00" y="336.10" width="17.30" height="22.35" fill="#e6821e" stroke="none" stroke-width="1" />
<rect x="330.70" y="336.10" width="1.30" height="22.35" fill="#e6821e" stroke="none" stroke-width="1" />
<rect x="129.20" y="357.75" width="1.70" height="1.4" fill="#e6821e" stroke="none" stroke-width="1" />
<rect x="209.00" y="357.75" width="8.00" height="1.4" fill="#e6821e" stroke="none" stroke-width="1" />
<rect x="281.20" y="357.75" width="7.10" height="1.4" fill="#e6821e" stroke="none" stroke-width="1" />
<rect x="289.90" y="357.75" width="14.10" height="1.4" fill="#e6821e" stroke="none" stroke-width="1" />
<rect x="312.00" y="357.75" width="1.20" height="1.4" fill="#e6821e" stroke="none" stroke-width="1" />
<rect x="319.70" y="357.75" width="9.60" height="1.4" fill="#e6821e" stroke="none" stroke-width="1" />
<rect x="330.70" y="357.75" width="1.30" height="1.4" fill="#e6821e" stroke="none" stroke-width="1" />
<rect x="112.00" y="358.45" width="3.30" height="22.35" fill="#e6821e" stroke="none" stroke-width="1" />
<rect x="129.20" y="358.45" width="1.70" height="22.35" fill="#e6821e" stroke="none" stroke-width="1" />
<rect x="172.90" y="358.45" width="11.00" height="22.35" fill="#e6821e" stroke="none" stroke-width="1" />
<rect x="193.30" y="358.45" width="1.50" height="22.35" fill="#e6821e" stroke="none" stroke-width="1" />
<rect x="209.00" y="358.45" width="8.00" height="22.35" fill="#e6821e" stroke="none" stroke-width="1" />
<rect x="240.30" y="358.45" width="2.60" height="22.35" fill="#e6821e" stroke="none" stroke-width="1" />
<rect x="246.00" y="358.45" width="4.90" height="22.35" fill="#e6821e" stroke="none" stroke-width="1" />
<rect x="252.80" y="358.45" width="13.80" height="22.35" fill="#e6821e" stroke="none" stroke-width="1" />
<rect x="271.00" y="358.45" width="1.90" height="22.35" fill="#e6821e" stroke="none" stroke-width="1" />
<rect x="281.20" y="358.45" width="32.00" height="22.35" fill="#e6821e" stroke="none" stroke-width="1" />
<rect x="319.70" y="358.45" width="12.30" height="22.35" fill="#e6821e" stroke="none" stroke-width="1" />
<text x="334.00" y="222.3" font-size="7.25" fill="#111" stroke="#111" textLength="15.40" lengthAdjust="spacingAndGlyphs" font-weight="bold">Type</text>
<text x="334.20" y="239.5" font-size="8.6" fill="#111" stroke="#111" textLength="49.12" lengthAdjust="spacingAndGlyphs" >Acute TEVAR</text>
<text x="334.00" y="262.8" font-size="8.6" fill="#111" stroke="#111" textLength="26.29" lengthAdjust="spacingAndGlyphs" >FL ratio</text>
<polyline points="362.1,258.1 367.6,260.35 362.1,262.6" fill="none" stroke="#4a4a4a" stroke-width="0.65"/>
<text x="368.30" y="262.8" font-size="8.6" fill="#111" stroke="#111" textLength="16.11" lengthAdjust="spacingAndGlyphs" >64%</text>
<text x="333.90" y="283.1" font-size="7.4" fill="#111" stroke="#111" textLength="37.18" lengthAdjust="spacingAndGlyphs" >NT-proBNP</text>
<polyline points="372.9,279.4 377.4,281.05 372.9,282.7" fill="none" stroke="#4a4a4a" stroke-width="0.65"/>
<text x="379.10" y="283.1" font-size="7.4" fill="#111" stroke="#111" textLength="28.59" lengthAdjust="spacingAndGlyphs" >330pg/ml</text>
<text x="334.10" y="306.5" font-size="8.5" fill="#111" stroke="#111" textLength="14.69" lengthAdjust="spacingAndGlyphs" >Age</text>
<polyline points="350.1,301.8 355.9,304.00 350.1,306.2" fill="none" stroke="#4a4a4a" stroke-width="0.65"/>
<text x="356.60" y="306.5" font-size="8.5" fill="#111" stroke="#111" textLength="31.10" lengthAdjust="spacingAndGlyphs" >74 years</text>
<text x="334.50" y="328.0" font-size="8.3" fill="#111" stroke="#111" textLength="16.31" lengthAdjust="spacingAndGlyphs" >LEM</text>
<text x="334.10" y="350.8" font-size="8.6" fill="#111" stroke="#111" textLength="30.30" lengthAdjust="spacingAndGlyphs" >A/D ratio</text>
<polyline points="365.7,345.9 371.8,348.25 365.7,350.6" fill="none" stroke="#4a4a4a" stroke-width="0.65"/>
<text x="372.70" y="350.8" font-size="8.6" fill="#111" stroke="#111" textLength="11.00" lengthAdjust="spacingAndGlyphs" >1.2</text>
<text x="334.50" y="373.5" font-size="8.3" fill="#111" stroke="#111" textLength="51.49" lengthAdjust="spacingAndGlyphs" >None distal tear</text>
<line x1="53.6" y1="235.52499999999998" x2="64.0" y2="235.52499999999998" stroke="#4a4a4a" stroke-width="0.9" />
<line x1="53.6" y1="257.875" x2="64.0" y2="257.875" stroke="#4a4a4a" stroke-width="0.9" />
<line x1="53.6" y1="235.52499999999998" x2="53.6" y2="257.875" stroke="#4a4a4a" stroke-width="0.9" />
<line x1="57.6" y1="302.575" x2="64.0" y2="302.575" stroke="#4a4a4a" stroke-width="0.9" />
<line x1="57.6" y1="324.925" x2="64.0" y2="324.925" stroke="#4a4a4a" stroke-width="0.9" />
<line x1="57.6" y1="302.575" x2="57.6" y2="324.925" stroke="#4a4a4a" stroke-width="0.9" />
<line x1="54.0" y1="280.225" x2="64.0" y2="280.225" stroke="#4a4a4a" stroke-width="0.9" />
<line x1="54.0" y1="313.75" x2="57.6" y2="313.75" stroke="#4a4a4a" stroke-width="0.9" />
<line x1="54.0" y1="280.225" x2="54.0" y2="313.75" stroke="#4a4a4a" stroke-width="0.9" />
<line x1="54.4" y1="347.27500000000003" x2="64.0" y2="347.27500000000003" stroke="#4a4a4a" stroke-width="0.9" />
<line x1="54.4" y1="369.625" x2="64.0" y2="369.625" stroke="#4a4a4a" stroke-width="0.9" />
<line x1="54.4" y1="347.27500000000003" x2="54.4" y2="369.625" stroke="#4a4a4a" stroke-width="0.9" />
<line x1="52.4" y1="296.9875" x2="54.0" y2="296.9875" stroke="#9a9a9a" stroke-width="0.9" />
<line x1="52.4" y1="358.45000000000005" x2="54.4" y2="358.45000000000005" stroke="#9a9a9a" stroke-width="0.9" />
<line x1="52.4" y1="296.9875" x2="52.4" y2="358.45000000000005" stroke="#9a9a9a" stroke-width="0.9" />
<line x1="49.4" y1="246.7" x2="53.6" y2="246.7" stroke="#4a4a4a" stroke-width="0.9" />
<line x1="49.4" y1="327.71875" x2="52.4" y2="327.71875" stroke="#4a4a4a" stroke-width="0.9" />
<line x1="49.4" y1="246.7" x2="49.4" y2="327.71875" stroke="#4a4a4a" stroke-width="0.9" />
<text x="24.50" y="213.5" font-size="7.0" fill="#111" stroke="#111" textLength="14.50" lengthAdjust="spacingAndGlyphs" font-weight="bold">Type</text>
<rect x="27" y="218.0" width="8" height="17.5" fill="#3cabb5" stroke="none" stroke-width="1" />
<rect x="27" y="218.0" width="8" height="8.8" fill="#e5837e" stroke="none" stroke-width="1" />
<text x="36.80" y="224.5" font-size="8.3" fill="#111" stroke="#111" textLength="16.21" lengthAdjust="spacingAndGlyphs" >High</text>
<text x="36.80" y="233.5" font-size="8.3" fill="#111" stroke="#111" textLength="13.70" lengthAdjust="spacingAndGlyphs" >Low</text>
<rect x="27" y="249.3" width="5" height="41.4" fill="#f3f3f3" stroke="none" stroke-width="1" />
<rect x="27" y="249.3" width="5" height="20.7" fill="#e6821e" stroke="none" stroke-width="1" />
<text x="25.3" y="252.3" font-size="7.0" text-anchor="end" fill="#222" stroke="#222" textLength="3.66" lengthAdjust="spacingAndGlyphs" >1</text>
<text x="25.0" y="293.0" font-size="7.0" text-anchor="end" fill="#222" stroke="#222" textLength="3.66" lengthAdjust="spacingAndGlyphs" >0</text>
<text x="493.30" y="17.7" font-size="8.5" fill="#111" stroke="#111" textLength="37.28" lengthAdjust="spacingAndGlyphs" >Risk score</text>
<rect x="536.7" y="11.1" width="8.2" height="8.8" fill="#f8c3ae" stroke="none" stroke-width="1" />
<line x1="536.7" y1="15.9" x2="544.9" y2="15.9" stroke="#e2531f" stroke-width="1.3" />
<line x1="540.8" y1="13.6" x2="540.8" y2="17.6" stroke="#e2531f" stroke-width="0.8" />
<text x="549.70" y="17.7" font-size="8.5" fill="#111" stroke="#111" textLength="15.71" lengthAdjust="spacingAndGlyphs" >High</text>
<rect x="575.0" y="11.1" width="8.2" height="8.8" fill="#a6dbe0" stroke="none" stroke-width="1" />
<line x1="575.0" y1="15.9" x2="583.2" y2="15.9" stroke="#1da0aa" stroke-width="1.3" />
<line x1="579.1" y1="13.6" x2="579.1" y2="17.6" stroke="#1da0aa" stroke-width="0.8" />
<text x="587.90" y="17.7" font-size="8.5" fill="#111" stroke="#111" textLength="14.30" lengthAdjust="spacingAndGlyphs" >Low</text>
<path d="M470.9,34.7 L471.5,34.7 L471.5,42 L472,42 L472,46.3 L475.9,46.3 L475.9,49.4 L479.7,49.4 L479.7,52.5 L486.7,52.5 L486.7,55.6 L495.2,55.6 L495.2,57.9 L501.4,57.9 L501.4,60.2 L507.6,60.2 L507.6,62.3 L562,62.3 L562,65.0 L573,65.0 L573,66.7 L587.5,66.7 L587.5,68.4 L616.5,68.4 L616.5,73.1 L652.8,73.1 L652.8,103.3 L616.5,103.3 L616.5,93.7 L587.5,93.7 L587.5,89.5 L573,89.5 L573,86.9 L562,86.9 L562,84.9 L526,84.9 L526,83.6 L507.6,83.6 L507.6,80.4 L501.4,80.4 L501.4,76.5 L494.5,76.5 L494.5,74.2 L486.7,74.2 L486.7,70.6 L479.7,70.6 L479.7,65.7 L475,65.7 L475,62.6 L472.8,62.6 L472.8,57.9 L472,57.9 L472,50 L471.3,50 L471.3,34.7 L470.9,34.7 Z" fill="#f8c3ae"/>
<path d="M470.9,34.4 L649.2,34.4 L649.2,42.6 L535.5,42.6 L535.5,40.3 L493.7,40.3 L493.7,37.75 L487.5,37.75 L487.5,34.7 L470.9,34.7 Z" fill="#a6dbe0" fill-opacity="0.95"/>
<path d="M470.9,34.7 H471.2 V40 H471.5 V45.5 H472.0 V51.5 H472.6 V54.2 H473.2 V55.8 H474.0 V57.3 H474.8 V58.0 H477.5 V60.2 H480.0 V62.6 H486.1 V65.7 H494.0 V66.6 H498.8 V68.8 H500.6 V70.5 H505.4 V72.3 H508.0 V73.2 H522.5 V74.0 H527.3 V74.8 H562.3 V76.8 H572.8 V79.2 H587.7 V82.2 H616.8 V90.7 H654.0" fill="none" stroke="#e2531f" stroke-width="1.5"/>
<path d="M470.9,34.7 H487.2 V35.8 H494.0 V36.7 H535.5 V38.3 H650.0" fill="none" stroke="#1da0aa" stroke-width="1.5"/>
<line x1="515" y1="34.800000000000004" x2="515" y2="37.6" stroke="#1da0aa" stroke-width="0.65"/><line x1="518.5" y1="34.800000000000004" x2="518.5" y2="37.6" stroke="#1da0aa" stroke-width="0.65"/><line x1="521.1" y1="34.800000000000004" x2="521.1" y2="37.6" stroke="#1da0aa" stroke-width="0.65"/><line x1="523.8" y1="34.800000000000004" x2="523.8" y2="37.6" stroke="#1da0aa" stroke-width="0.65"/><line x1="526.4" y1="34.800000000000004" x2="526.4" y2="37.6" stroke="#1da0aa" stroke-width="0.65"/><line x1="529" y1="34.800000000000004" x2="529" y2="37.6" stroke="#1da0aa" stroke-width="0.65"/><line x1="531.7" y1="34.800000000000004" x2="531.7" y2="37.6" stroke="#1da0aa" stroke-width="0.65"/><line x1="542.6" y1="36.4" x2="542.6" y2="39.199999999999996" stroke="#1da0aa" stroke-width="0.65"/><line x1="545.3" y1="36.4" x2="545.3" y2="39.199999999999996" stroke="#1da0aa" stroke-width="0.65"/><line x1="547.9" y1="36.4" x2="547.9" y2="39.199999999999996" stroke="#1da0aa" stroke-width="0.65"/><line x1="552.3" y1="36.4" x2="552.3" y2="39.199999999999996" stroke="#1da0aa" stroke-width="0.65"/><line x1="554.4" y1="36.4" x2="554.4" y2="39.199999999999996" stroke="#1da0aa" stroke-width="0.65"/><line x1="556.6" y1="36.4" x2="556.6" y2="39.199999999999996" stroke="#1da0aa" stroke-width="0.65"/><line x1="558.8" y1="36.4" x2="558.8" y2="39.199999999999996" stroke="#1da0aa" stroke-width="0.65"/><line x1="561" y1="36.4" x2="561" y2="39.199999999999996" stroke="#1da0aa" stroke-width="0.65"/><line x1="563.6" y1="36.4" x2="563.6" y2="39.199999999999996" stroke="#1da0aa" stroke-width="0.65"/><line x1="566.3" y1="36.4" x2="566.3" y2="39.199999999999996" stroke="#1da0aa" stroke-width="0.65"/><line x1="568.9" y1="36.4" x2="568.9" y2="39.199999999999996" stroke="#1da0aa" stroke-width="0.65"/><line x1="572.8" y1="36.4" x2="572.8" y2="39.199999999999996" stroke="#1da0aa" stroke-width="0.65"/><line x1="581.6" y1="36.4" x2="581.6" y2="39.199999999999996" stroke="#1da0aa" stroke-width="0.65"/><line x1="585.5" y1="36.4" x2="585.5" y2="39.199999999999996" stroke="#1da0aa" stroke-width="0.65"/><line x1="588.2" y1="36.4" x2="588.2" y2="39.199999999999996" stroke="#1da0aa" stroke-width="0.65"/><line x1="590.8" y1="36.4" x2="590.8" y2="39.199999999999996" stroke="#1da0aa" stroke-width="0.65"/><line x1="594.3" y1="36.4" x2="594.3" y2="39.199999999999996" stroke="#1da0aa" stroke-width="0.65"/><line x1="597" y1="36.4" x2="597" y2="39.199999999999996" stroke="#1da0aa" stroke-width="0.65"/><line x1="602.6" y1="36.4" x2="602.6" y2="39.199999999999996" stroke="#1da0aa" stroke-width="0.65"/><line x1="607.9" y1="36.4" x2="607.9" y2="39.199999999999996" stroke="#1da0aa" stroke-width="0.65"/><line x1="612.3" y1="36.4" x2="612.3" y2="39.199999999999996" stroke="#1da0aa" stroke-width="0.65"/><line x1="617.5" y1="36.4" x2="617.5" y2="39.199999999999996" stroke="#1da0aa" stroke-width="0.65"/><line x1="620.2" y1="36.4" x2="620.2" y2="39.199999999999996" stroke="#1da0aa" stroke-width="0.65"/><line x1="625.4" y1="36.4" x2="625.4" y2="39.199999999999996" stroke="#1da0aa" stroke-width="0.65"/><line x1="630.3" y1="36.4" x2="630.3" y2="39.199999999999996" stroke="#1da0aa" stroke-width="0.65"/><line x1="632.9" y1="36.4" x2="632.9" y2="39.199999999999996" stroke="#1da0aa" stroke-width="0.65"/><line x1="643.9" y1="36.4" x2="643.9" y2="39.199999999999996" stroke="#1da0aa" stroke-width="0.65"/><line x1="645" y1="36.4" x2="645" y2="39.199999999999996" stroke="#1da0aa" stroke-width="0.65"/><line x1="650" y1="36.4" x2="650" y2="39.199999999999996" stroke="#1da0aa" stroke-width="0.65"/><line x1="492.3" y1="63.800000000000004" x2="492.3" y2="66.60000000000001" stroke="#e2531f" stroke-width="0.65"/><line x1="503.2" y1="68.6" x2="503.2" y2="71.4" stroke="#e2531f" stroke-width="0.65"/><line x1="522.9" y1="72.1" x2="522.9" y2="74.9" stroke="#e2531f" stroke-width="0.65"/><line x1="524.7" y1="72.1" x2="524.7" y2="74.9" stroke="#e2531f" stroke-width="0.65"/><line x1="529" y1="72.89999999999999" x2="529" y2="75.7" stroke="#e2531f" stroke-width="0.65"/><line x1="532.5" y1="72.89999999999999" x2="532.5" y2="75.7" stroke="#e2531f" stroke-width="0.65"/><line x1="541.8" y1="72.89999999999999" x2="541.8" y2="75.7" stroke="#e2531f" stroke-width="0.65"/><line x1="544.4" y1="72.89999999999999" x2="544.4" y2="75.7" stroke="#e2531f" stroke-width="0.65"/><line x1="547" y1="72.89999999999999" x2="547" y2="75.7" stroke="#e2531f" stroke-width="0.65"/><line x1="550.5" y1="72.89999999999999" x2="550.5" y2="75.7" stroke="#e2531f" stroke-width="0.65"/><line x1="554" y1="72.89999999999999" x2="554" y2="75.7" stroke="#e2531f" stroke-width="0.65"/><line x1="557.5" y1="72.89999999999999" x2="557.5" y2="75.7" stroke="#e2531f" stroke-width="0.65"/><line x1="559.3" y1="72.89999999999999" x2="559.3" y2="75.7" stroke="#e2531f" stroke-width="0.65"/><line x1="566.3" y1="74.89999999999999" x2="566.3" y2="77.7" stroke="#e2531f" stroke-width="0.65"/><line x1="571.1" y1="74.89999999999999" x2="571.1" y2="77.7" stroke="#e2531f" stroke-width="0.65"/><line x1="576.8" y1="77.3" x2="576.8" y2="80.10000000000001" stroke="#e2531f" stroke-width="0.65"/><line x1="579.4" y1="77.3" x2="579.4" y2="80.10000000000001" stroke="#e2531f" stroke-width="0.65"/><line x1="582" y1="77.3" x2="582" y2="80.10000000000001" stroke="#e2531f" stroke-width="0.65"/><line x1="584.2" y1="77.3" x2="584.2" y2="80.10000000000001" stroke="#e2531f" stroke-width="0.65"/><line x1="607.9" y1="80.3" x2="607.9" y2="83.10000000000001" stroke="#e2531f" stroke-width="0.65"/><line x1="613.1" y1="80.3" x2="613.1" y2="83.10000000000001" stroke="#e2531f" stroke-width="0.65"/><line x1="618.8" y1="88.8" x2="618.8" y2="91.60000000000001" stroke="#e2531f" stroke-width="0.65"/><line x1="625.4" y1="88.8" x2="625.4" y2="91.60000000000001" stroke="#e2531f" stroke-width="0.65"/><line x1="631.5" y1="88.8" x2="631.5" y2="91.60000000000001" stroke="#e2531f" stroke-width="0.65"/><line x1="643.3" y1="88.8" x2="643.3" y2="91.60000000000001" stroke="#e2531f" stroke-width="0.65"/><line x1="645.5" y1="88.8" x2="645.5" y2="91.60000000000001" stroke="#e2531f" stroke-width="0.65"/><line x1="647.7" y1="88.8" x2="647.7" y2="91.60000000000001" stroke="#e2531f" stroke-width="0.65"/><line x1="652.5" y1="88.8" x2="652.5" y2="91.60000000000001" stroke="#e2531f" stroke-width="0.65"/>
<line x1="461.3" y1="29.2" x2="461.3" y2="137.7" stroke="#222" stroke-width="0.9" />
<line x1="460.9" y1="137.3" x2="667.8" y2="137.3" stroke="#222" stroke-width="0.9" />
<line x1="459.6" y1="34.7" x2="461.3" y2="34.7" stroke="#222" stroke-width="0.8" />
<text x="446.40" y="36.90" font-size="6.4" fill="#333" stroke="#333" textLength="12.01" lengthAdjust="spacingAndGlyphs" >1.00</text>
<line x1="459.6" y1="59.300000000000004" x2="461.3" y2="59.300000000000004" stroke="#222" stroke-width="0.8" />
<text x="446.40" y="61.50" font-size="6.4" fill="#333" stroke="#333" textLength="12.01" lengthAdjust="spacingAndGlyphs" >0.75</text>
<line x1="459.6" y1="83.9" x2="461.3" y2="83.9" stroke="#222" stroke-width="0.8" />
<text x="446.40" y="86.10" font-size="6.4" fill="#333" stroke="#333" textLength="12.01" lengthAdjust="spacingAndGlyphs" >0.50</text>
<line x1="459.6" y1="108.50000000000001" x2="461.3" y2="108.50000000000001" stroke="#222" stroke-width="0.8" />
<text x="446.40" y="110.70" font-size="6.4" fill="#333" stroke="#333" textLength="12.01" lengthAdjust="spacingAndGlyphs" >0.25</text>
<line x1="459.6" y1="133.10000000000002" x2="461.3" y2="133.10000000000002" stroke="#222" stroke-width="0.8" />
<text x="446.40" y="135.30" font-size="6.4" fill="#333" stroke="#333" textLength="12.01" lengthAdjust="spacingAndGlyphs" >0.00</text>
<line x1="470.4" y1="137.3" x2="470.4" y2="139.1" stroke="#222" stroke-width="0.8" />
<text x="470.4" y="145.0" font-size="6.6" text-anchor="middle" fill="#333" stroke="#333" textLength="3.45" lengthAdjust="spacingAndGlyphs" >0</text>
<line x1="501.77" y1="137.3" x2="501.77" y2="139.1" stroke="#222" stroke-width="0.8" />
<text x="501.77" y="145.0" font-size="6.6" text-anchor="middle" fill="#333" stroke="#333" textLength="3.45" lengthAdjust="spacingAndGlyphs" >1</text>
<line x1="533.14" y1="137.3" x2="533.14" y2="139.1" stroke="#222" stroke-width="0.8" />
<text x="533.14" y="145.0" font-size="6.6" text-anchor="middle" fill="#333" stroke="#333" textLength="3.45" lengthAdjust="spacingAndGlyphs" >2</text>
<line x1="564.51" y1="137.3" x2="564.51" y2="139.1" stroke="#222" stroke-width="0.8" />
<text x="564.51" y="145.0" font-size="6.6" text-anchor="middle" fill="#333" stroke="#333" textLength="3.45" lengthAdjust="spacingAndGlyphs" >3</text>
<line x1="595.88" y1="137.3" x2="595.88" y2="139.1" stroke="#222" stroke-width="0.8" />
<text x="595.88" y="145.0" font-size="6.6" text-anchor="middle" fill="#333" stroke="#333" textLength="3.45" lengthAdjust="spacingAndGlyphs" >4</text>
<line x1="627.25" y1="137.3" x2="627.25" y2="139.1" stroke="#222" stroke-width="0.8" />
<text x="627.25" y="145.0" font-size="6.6" text-anchor="middle" fill="#333" stroke="#333" textLength="3.45" lengthAdjust="spacingAndGlyphs" >5</text>
<line x1="658.62" y1="137.3" x2="658.62" y2="139.1" stroke="#222" stroke-width="0.8" />
<text x="658.62" y="145.0" font-size="6.6" text-anchor="middle" fill="#333" stroke="#333" textLength="3.45" lengthAdjust="spacingAndGlyphs" >6</text>
<text x="543.60" y="156.2" font-size="8.3" fill="#111" stroke="#111" textLength="45.00" lengthAdjust="spacingAndGlyphs" >Time (years)</text>
<text transform="translate(438.5,131.30) rotate(-90)" x="0" y="0" font-size="8.5" fill="#111" stroke="#111" textLength="99.29" lengthAdjust="spacingAndGlyphs">AEs-free survival probability</text>
<path d="M474.2,116.8 C475.2,114.8 476.3,112.7 477.5,110.5 M476.5,110.8 C478.6,110.0 481.3,109.9 481.0,111.7 C480.7,113.4 478.4,113.9 475.9,113.8" fill="none" stroke="#1a1a1a" stroke-width="0.9" stroke-linecap="round"/>
<text x="482.40" y="116.3" font-size="10.0" fill="#111" stroke="#111" textLength="4.39" lengthAdjust="spacingAndGlyphs" >&lt;</text>
<text x="487.60" y="116.4" font-size="10.0" fill="#111" stroke="#111" textLength="21.28" lengthAdjust="spacingAndGlyphs" >0.001</text>
<line x1="459.5" y1="163.2" x2="459.5" y2="182.7" stroke="#222" stroke-width="0.9" />
<line x1="459.1" y1="182.3" x2="665.8" y2="182.3" stroke="#222" stroke-width="0.9" />
<line x1="457.9" y1="168.0" x2="459.5" y2="168.0" stroke="#222" stroke-width="0.8" />
<line x1="457.9" y1="176.6" x2="459.5" y2="176.6" stroke="#222" stroke-width="0.8" />
<text x="442.70" y="170.2" font-size="7.0" fill="#e2653a" stroke="#e2653a" textLength="13.81" lengthAdjust="spacingAndGlyphs" >High</text>
<text x="442.80" y="178.8" font-size="7.0" fill="#3bb2bc" stroke="#3bb2bc" textLength="11.90" lengthAdjust="spacingAndGlyphs" >Low</text>
<text x="468.4" y="171.4" font-size="6.7" text-anchor="middle" fill="#222" stroke="#222" textLength="7.01" lengthAdjust="spacingAndGlyphs" >78</text>
<text x="468.4" y="180.0" font-size="6.7" text-anchor="middle" fill="#222" stroke="#222" textLength="7.01" lengthAdjust="spacingAndGlyphs" >94</text>
<line x1="468.4" y1="182.3" x2="468.4" y2="184.1" stroke="#222" stroke-width="0.8" />
<text x="468.4" y="190.1" font-size="6.6" text-anchor="middle" fill="#333" stroke="#333" textLength="3.45" lengthAdjust="spacingAndGlyphs" >0</text>
<text x="499.75" y="171.4" font-size="6.7" text-anchor="middle" fill="#222" stroke="#222" textLength="7.01" lengthAdjust="spacingAndGlyphs" >48</text>
<text x="499.75" y="180.0" font-size="6.7" text-anchor="middle" fill="#222" stroke="#222" textLength="7.01" lengthAdjust="spacingAndGlyphs" >86</text>
<line x1="499.75" y1="182.3" x2="499.75" y2="184.1" stroke="#222" stroke-width="0.8" />
<text x="499.75" y="190.1" font-size="6.6" text-anchor="middle" fill="#333" stroke="#333" textLength="3.45" lengthAdjust="spacingAndGlyphs" >1</text>
<text x="531.1" y="171.4" font-size="6.7" text-anchor="middle" fill="#222" stroke="#222" textLength="7.01" lengthAdjust="spacingAndGlyphs" >37</text>
<text x="531.1" y="180.0" font-size="6.7" text-anchor="middle" fill="#222" stroke="#222" textLength="7.01" lengthAdjust="spacingAndGlyphs" >72</text>
<line x1="531.1" y1="182.3" x2="531.1" y2="184.1" stroke="#222" stroke-width="0.8" />
<text x="531.1" y="190.1" font-size="6.6" text-anchor="middle" fill="#333" stroke="#333" textLength="3.45" lengthAdjust="spacingAndGlyphs" >2</text>
<text x="562.45" y="171.4" font-size="6.7" text-anchor="middle" fill="#222" stroke="#222" textLength="7.01" lengthAdjust="spacingAndGlyphs" >27</text>
<text x="562.45" y="180.0" font-size="6.7" text-anchor="middle" fill="#222" stroke="#222" textLength="7.01" lengthAdjust="spacingAndGlyphs" >48</text>
<line x1="562.45" y1="182.3" x2="562.45" y2="184.1" stroke="#222" stroke-width="0.8" />
<text x="562.45" y="190.1" font-size="6.6" text-anchor="middle" fill="#333" stroke="#333" textLength="3.45" lengthAdjust="spacingAndGlyphs" >3</text>
<text x="593.8" y="171.4" font-size="6.7" text-anchor="middle" fill="#222" stroke="#222" textLength="7.01" lengthAdjust="spacingAndGlyphs" >15</text>
<text x="593.8" y="180.0" font-size="6.7" text-anchor="middle" fill="#222" stroke="#222" textLength="7.01" lengthAdjust="spacingAndGlyphs" >20</text>
<line x1="593.8" y1="182.3" x2="593.8" y2="184.1" stroke="#222" stroke-width="0.8" />
<text x="593.8" y="190.1" font-size="6.6" text-anchor="middle" fill="#333" stroke="#333" textLength="3.45" lengthAdjust="spacingAndGlyphs" >4</text>
<text x="625.15" y="171.4" font-size="6.7" text-anchor="middle" fill="#222" stroke="#222" textLength="3.5" lengthAdjust="spacingAndGlyphs" >6</text>
<text x="625.15" y="180.0" font-size="6.7" text-anchor="middle" fill="#222" stroke="#222" textLength="3.5" lengthAdjust="spacingAndGlyphs" >7</text>
<line x1="625.15" y1="182.3" x2="625.15" y2="184.1" stroke="#222" stroke-width="0.8" />
<text x="625.15" y="190.1" font-size="6.6" text-anchor="middle" fill="#333" stroke="#333" textLength="3.45" lengthAdjust="spacingAndGlyphs" >5</text>
<text x="656.5" y="171.4" font-size="6.7" text-anchor="middle" fill="#222" stroke="#222" textLength="3.5" lengthAdjust="spacingAndGlyphs" >0</text>
<text x="656.5" y="180.0" font-size="6.7" text-anchor="middle" fill="#222" stroke="#222" textLength="3.5" lengthAdjust="spacingAndGlyphs" >0</text>
<line x1="656.5" y1="182.3" x2="656.5" y2="184.1" stroke="#222" stroke-width="0.8" />
<text x="656.5" y="190.1" font-size="6.6" text-anchor="middle" fill="#333" stroke="#333" textLength="3.45" lengthAdjust="spacingAndGlyphs" >6</text>
<text x="543.60" y="202.3" font-size="8.3" fill="#111" stroke="#111" textLength="45.00" lengthAdjust="spacingAndGlyphs" >Time (years)</text>
<text transform="translate(439.2,190.20) rotate(-90)" x="0" y="0" font-size="8.5" fill="#111" stroke="#111" textLength="37.48" lengthAdjust="spacingAndGlyphs">Risk score</text>
<text x="501.80" y="237.6" font-size="8.5" fill="#111" stroke="#111" textLength="37.18" lengthAdjust="spacingAndGlyphs" >Risk score</text>
<line x1="544.9" y1="235.6" x2="552.1" y2="235.6" stroke="#e2531f" stroke-width="1.7" />
<text x="556.60" y="237.6" font-size="8.5" fill="#111" stroke="#111" textLength="16.01" lengthAdjust="spacingAndGlyphs" >High</text>
<line x1="583.0" y1="235.6" x2="590.2" y2="235.6" stroke="#1da0aa" stroke-width="1.7" />
<text x="594.40" y="237.6" font-size="8.5" fill="#111" stroke="#111" textLength="14.40" lengthAdjust="spacingAndGlyphs" >Low</text>
<path d="M467.3,366.0 H467.5 V352 H467.8 V341.3 H468.5 V337.2 H469.5 V334.7 H472.3 V331.0 H475.4 V324.9 H482.5 V320.3 H490.75 V317.5 H495.9 V310.5 H502 V308.5 H504.1 V305.4 H522.5 V302.5 H558.4 V298.5 H569.2 V292.8 H583.1 V285.4 H610.7 V275.4 H612.2 V264.1 H647.4" fill="none" stroke="#e2531f" stroke-width="1.55"/>
<path d="M467.3,365.6 H483.4 V364.0 H490.5 V362.6 H531.8 V361.2 H643.6" fill="none" stroke="#1da0aa" stroke-width="1.55"/>
<line x1="457.9" y1="243.3" x2="457.9" y2="373.8" stroke="#333" stroke-width="0.9" />
<line x1="457.5" y1="373.4" x2="662.2" y2="373.4" stroke="#333" stroke-width="0.9" />
<line x1="456.1" y1="247.5" x2="457.9" y2="247.5" stroke="#333" stroke-width="0.8" />
<text x="444.00" y="249.70" font-size="6.4" fill="#333" stroke="#333" textLength="10.81" lengthAdjust="spacingAndGlyphs" >1.00</text>
<line x1="456.1" y1="277.25" x2="457.9" y2="277.25" stroke="#333" stroke-width="0.8" />
<text x="444.00" y="279.45" font-size="6.4" fill="#333" stroke="#333" textLength="10.81" lengthAdjust="spacingAndGlyphs" >0.75</text>
<line x1="456.1" y1="307.0" x2="457.9" y2="307.0" stroke="#333" stroke-width="0.8" />
<text x="444.00" y="309.20" font-size="6.4" fill="#333" stroke="#333" textLength="10.81" lengthAdjust="spacingAndGlyphs" >0.50</text>
<line x1="456.1" y1="336.75" x2="457.9" y2="336.75" stroke="#333" stroke-width="0.8" />
<text x="444.00" y="338.95" font-size="6.4" fill="#333" stroke="#333" textLength="10.81" lengthAdjust="spacingAndGlyphs" >0.25</text>
<line x1="456.1" y1="366.5" x2="457.9" y2="366.5" stroke="#333" stroke-width="0.8" />
<text x="444.00" y="368.70" font-size="6.4" fill="#333" stroke="#333" textLength="10.81" lengthAdjust="spacingAndGlyphs" >0.00</text>
<line x1="467.4" y1="373.4" x2="467.4" y2="375.2" stroke="#333" stroke-width="0.8" />
<text x="467.4" y="380.8" font-size="6.6" text-anchor="middle" fill="#333" stroke="#333" textLength="3.45" lengthAdjust="spacingAndGlyphs" >0</text>
<line x1="498.33" y1="373.4" x2="498.33" y2="375.2" stroke="#333" stroke-width="0.8" />
<text x="498.33" y="380.8" font-size="6.6" text-anchor="middle" fill="#333" stroke="#333" textLength="3.45" lengthAdjust="spacingAndGlyphs" >1</text>
<line x1="529.26" y1="373.4" x2="529.26" y2="375.2" stroke="#333" stroke-width="0.8" />
<text x="529.26" y="380.8" font-size="6.6" text-anchor="middle" fill="#333" stroke="#333" textLength="3.45" lengthAdjust="spacingAndGlyphs" >2</text>
<line x1="560.1899999999999" y1="373.4" x2="560.1899999999999" y2="375.2" stroke="#333" stroke-width="0.8" />
<text x="560.1899999999999" y="380.8" font-size="6.6" text-anchor="middle" fill="#333" stroke="#333" textLength="3.45" lengthAdjust="spacingAndGlyphs" >3</text>
<line x1="591.12" y1="373.4" x2="591.12" y2="375.2" stroke="#333" stroke-width="0.8" />
<text x="591.12" y="380.8" font-size="6.6" text-anchor="middle" fill="#333" stroke="#333" textLength="3.45" lengthAdjust="spacingAndGlyphs" >4</text>
<line x1="622.05" y1="373.4" x2="622.05" y2="375.2" stroke="#333" stroke-width="0.8" />
<text x="622.05" y="380.8" font-size="6.6" text-anchor="middle" fill="#333" stroke="#333" textLength="3.45" lengthAdjust="spacingAndGlyphs" >5</text>
<line x1="652.98" y1="373.4" x2="652.98" y2="375.2" stroke="#333" stroke-width="0.8" />
<text x="652.98" y="380.8" font-size="6.6" text-anchor="middle" fill="#333" stroke="#333" textLength="3.45" lengthAdjust="spacingAndGlyphs" >6</text>
<text x="544.00" y="390.0" font-size="8.3" fill="#111" stroke="#111" textLength="44.90" lengthAdjust="spacingAndGlyphs" >Time (years)</text>
<text transform="translate(439.0,356.20) rotate(-90)" x="0" y="0" font-size="8.6" fill="#111" stroke="#111" textLength="93.21" lengthAdjust="spacingAndGlyphs">Cumulative hazard of AEs</text>
</svg>
</body></html>
